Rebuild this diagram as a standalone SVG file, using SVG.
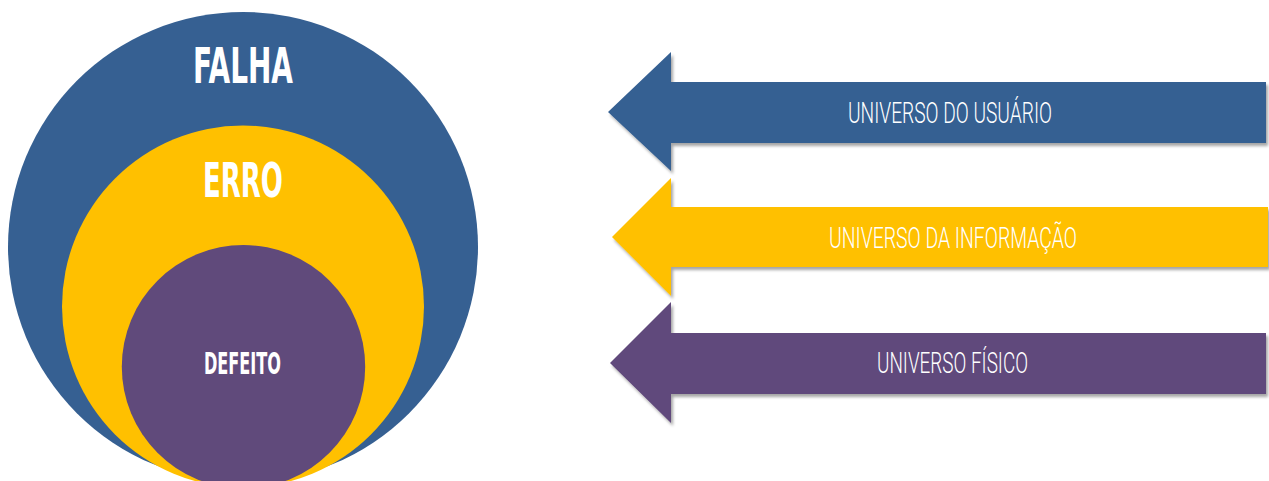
<svg xmlns="http://www.w3.org/2000/svg" width="1269" height="481" viewBox="0 0 1269 481">
  <defs>
    <filter id="shadow" x="-5%" y="-10%" width="110%" height="130%">
      <feDropShadow dx="2" dy="3" stdDeviation="1.5" flood-color="#000" flood-opacity="0.35"/>
    </filter>
    <style>
      .ctext { font-family: "DejaVu Sans Condensed", "DejaVu Sans", sans-serif; font-weight: bold; fill: #ffffff; text-anchor: middle; }
      .atext { font-family: Roboto, "Liberation Sans", sans-serif; font-weight: 300; fill: #ffffff; text-anchor: middle; font-size: 30px; }
      .blue { fill: #366092; }
      .yellow { fill: #FFC000; }
      .purple { fill: #604A7B; }
      .arrow { filter: url(#shadow); }
    </style>
  </defs>
  <rect width="1269" height="481" fill="#ffffff"/>

  <g id="falha">
    <circle class="blue" cx="243" cy="247" r="235"/>
    <text class="ctext" x="243" y="82.5" font-size="49" textLength="100" lengthAdjust="spacingAndGlyphs">FALHA</text>
  </g>
  <g id="erro">
    <circle class="yellow" cx="243" cy="306.5" r="181"/>
    <text class="ctext" x="243" y="197" font-size="48" textLength="80" lengthAdjust="spacingAndGlyphs">ERRO</text>
  </g>
  <g id="defeito">
    <circle class="purple" cx="243.5" cy="366.7" r="121.7"/>
    <text class="ctext" x="242.5" y="374" font-size="30" textLength="77" lengthAdjust="spacingAndGlyphs">DEFEITO</text>
  </g>

  <g id="universo-usuario">
    <polygon class="blue arrow" points="608,112 671,52 671,82 1266,82 1266,143 671,143 671,171"/>
    <text class="atext" x="950" y="123" textLength="204" lengthAdjust="spacingAndGlyphs">UNIVERSO DO USUÁRIO</text>
  </g>
  <g id="universo-informacao">
    <polygon class="yellow arrow" points="612,237 671,178 671,207 1268,207 1268,267 671,267 671,296"/>
    <text class="atext" x="953" y="248" textLength="248" lengthAdjust="spacingAndGlyphs">UNIVERSO DA INFORMAÇÃO</text>
  </g>
  <g id="universo-fisico">
    <polygon class="purple arrow" points="610,363 671,302 671,333 1266,333 1266,394 671,394 671,423"/>
    <text class="atext" x="952.5" y="373" textLength="151" lengthAdjust="spacingAndGlyphs">UNIVERSO FÍSICO</text>
  </g>
</svg>
